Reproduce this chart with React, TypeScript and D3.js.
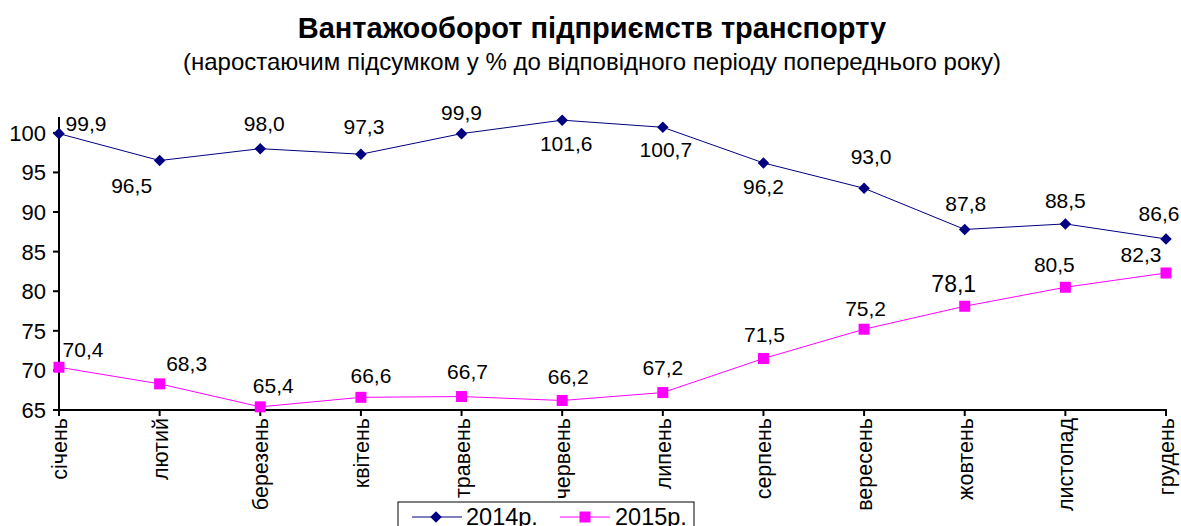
import React from 'react';
import * as d3 from 'd3';

const months = ['січень', 'лютий', 'березень', 'квітень', 'травень', 'червень', 'липень', 'серпень', 'вересень', 'жовтень', 'листопад', 'грудень'];
const values2014 = [99.9, 96.5, 98.0, 97.3, 99.9, 101.6, 100.7, 96.2, 93.0, 87.8, 88.5, 86.6];
const values2015 = [70.4, 68.3, 65.4, 66.6, 66.7, 66.2, 67.2, 71.5, 75.2, 78.1, 80.5, 82.3];
const yTicks = [65, 70, 75, 80, 85, 90, 95, 100];

// label centre offsets relative to the marker (placed by hand in the original)
const off2014 = [[27, -10], [-28, 25], [4, -25.5], [3, -27.5], [0, -21.5], [4, 23.5], [3, 22.5], [0, 23.5], [7, -31.5], [1, -26.5], [0, -23.5], [-7, -25.5]];
const off2015 = [[24, -18], [27, -20], [13, -21], [10, -22], [6, -25], [6, -24], [0, -25], [1, -24], [1.5, -21], [-11, -22.5], [-11, -23], [-25, -19]];

const W = 1181, H = 526;
const FONT = 'Liberation Sans, Arial, sans-serif';

export default function App() {
  const x = d3.scalePoint<string>().domain(months).range([59, 1166]);
  const y = d3.scaleLinear().domain([65, 102]).range([410, 117]);
  const fmt = (v: number) => v.toFixed(1).replace('.', ',');

  const line = d3.line<number>().x((_, i) => x(months[i])!).y(d => y(d));
  const diamond = d3.symbol().type(d3.symbolDiamond2).size(85)();

  return (
    <svg width={W} height={H} style={{ position: 'absolute', left: 0, top: 0 }} fontFamily={FONT}>
      <rect width={W} height={H} fill="#fff" />
      <text x={592} y={38} textAnchor="middle" fontSize={29} fontWeight="bold">Вантажооборот підприємств транспорту</text>
      <text x={592} y={70} textAnchor="middle" fontSize={24}>(наростаючим підсумком у % до відповідного періоду попереднього року)</text>

      {/* y axis */}
      <line x1={59} x2={59} y1={117} y2={411} stroke="#000" strokeWidth={2} />
      {yTicks.map(t => (
        <g key={t}>
          <line x1={53} x2={59} y1={y(t)} y2={y(t)} stroke="#000" strokeWidth={2} />
          <text x={46} y={y(t)} dy="0.36em" textAnchor="end" fontSize={22}>{t}</text>
        </g>
      ))}

      {/* x axis */}
      <line x1={58} x2={1167} y1={410} y2={410} stroke="#000" strokeWidth={2} />
      {months.map(m => (
        <g key={m}>
          <line x1={x(m)} x2={x(m)} y1={410} y2={416} stroke="#000" strokeWidth={2} />
          <text transform={`translate(${x(m)! + 8},418) rotate(-90)`} textAnchor="end" fontSize={21.5}>{m}</text>
        </g>
      ))}

      <path d={line(values2014)!} fill="none" stroke="#000080" strokeWidth={1} />
      <path d={line(values2015)!} fill="none" stroke="#ff00ff" strokeWidth={1} />

      {values2014.map((v, i) => (
        <path key={'a' + i} d={diamond!} transform={`translate(${x(months[i])},${y(v)})`} fill="#000080" />
      ))}
      {values2015.map((v, i) => (
        <rect key={'b' + i} x={x(months[i])! - 5.5} y={y(v) - 5.5} width={11} height={11} fill="#ff00ff" />
      ))}

      {values2014.map((v, i) => (
        <text key={'la' + i} x={x(months[i])! + off2014[i][0]} y={y(v) + off2014[i][1]} dy="0.36em" textAnchor="middle" fontSize={21}>{fmt(v)}</text>
      ))}
      {values2015.map((v, i) => (
        <text key={'lb' + i} x={x(months[i])! + off2015[i][0]} y={y(v) + off2015[i][1]} dy="0.36em" textAnchor="middle" fontSize={i === 9 ? 23 : 21}>{fmt(v)}</text>
      ))}

      {/* legend */}
      <rect x={398} y={502} width={296} height={30} fill="#fff" stroke="#000" strokeWidth={1} />
      <line x1={412} x2={462} y1={517} y2={517} stroke="#000080" />
      <path d={diamond!} transform="translate(436,517)" fill="#000080" />
      <text x={466} y={525} fontSize={23.5}>2014р.</text>
      <line x1={560} x2={610} y1={517} y2={517} stroke="#ff00ff" />
      <rect x={579.5} y={511.5} width={11} height={11} fill="#ff00ff" />
      <text x={615} y={525} fontSize={23.5}>2015р.</text>
    </svg>
  );
}
